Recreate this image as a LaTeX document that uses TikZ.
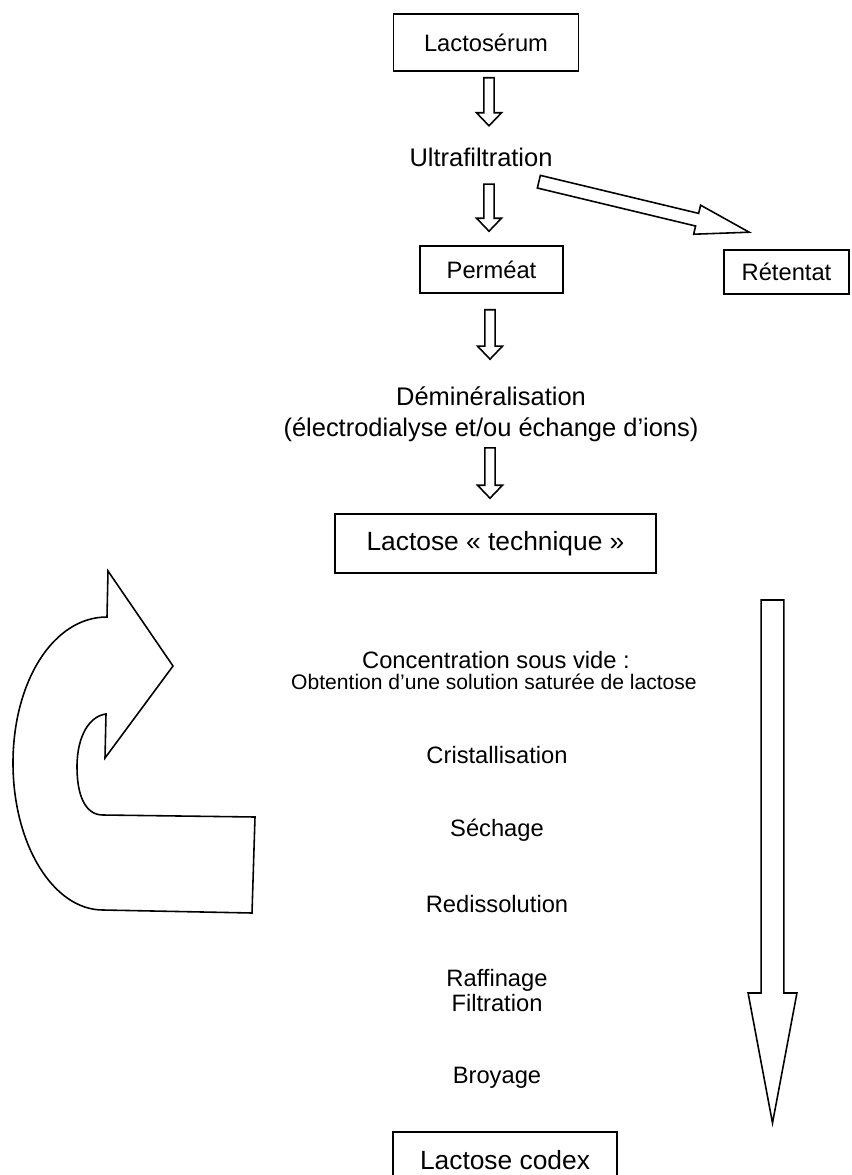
\documentclass[tikz,border=0pt]{standalone}
\usepackage{fontspec}
\setmainfont{Liberation Sans}
\usetikzlibrary{calc, positioning}
\tikzstyle{box} = [draw, rectangle, line width=0.9pt, inner sep=0pt, font=\fontsize{13.5}{16}\selectfont]
\tikzstyle{wide box} = [box, font=\fontsize{15}{18}\selectfont]
\tikzstyle{stage} = [inner sep=0pt, align=center, font=\fontsize{13.5}{14.5}\selectfont]
\tikzstyle{main stage} = [stage, font=\fontsize{14.5}{17.6}\selectfont]
\tikzstyle{note} = [stage, font=\fontsize{12}{14}\selectfont]
\tikzstyle{outline} = [draw, line width=0.9pt, line join=miter, fill=white]
\tikzset{
    shaft/.store in=\sw, head/.store in=\hw, headlen/.store in=\hl,
    shaft=2.9pt, head=7.1pt, headlen=7.4pt,
    hollow/.style={outline, to path={
        let \p1=(\tikztostart), \p2=(\tikztotarget) in
        ($(\p1)!\sw!90:(\p2)$) -- ($(\p2)!\hl!(\p1)!\sw!90:(\p2)$)
        -- ($(\p2)!\hl!(\p1)!\hw!90:(\p2)$) -- (\p2)
        -- ($(\p2)!\hl!(\p1)!\hw!-90:(\p2)$) -- ($(\p2)!\hl!(\p1)!\sw!-90:(\p2)$)
        -- ($(\p1)!\sw!-90:(\p2)$) -- cycle}}
}

\begin{document}
\begin{tikzpicture}[x=0.02cm, y=0.02cm]
    \useasboundingbox (0,0) rectangle (851,-1175);

    \node (serum) [box, minimum width=3.7cm, minimum height=1.14cm] at (486,-42.5) {Lactosérum};
    \node (ultra) [main stage] at (481,-157.5) {Ultrafiltration};
    \node (permeat) [box, minimum width=2.86cm, minimum height=0.94cm] at (491.5,-269.5) {Perméat};
    \node (retentat) [box, minimum width=2.5cm, minimum height=0.88cm] at (786.5,-272) {Rétentat};
    \node (demin) [main stage] at (491,-414) {Déminéralisation\\(électrodialyse et/ou échange d’ions)};
    \node (technique) [wide box, minimum width=6.42cm, minimum height=1.18cm] at (495.5,-543.5) {Lactose «~technique~»};

    \node (conc) [stage] at (496,-660) {Concentration sous vide :};
    \node (sat) [note] at (494,-682) {Obtention d’une solution saturée de lactose};
    \node (cristal) [stage] at (497,-755) {Cristallisation};
    \node (sechage) [stage] at (497,-830) {Séchage};
    \node (rediss) [stage] at (497,-904) {Redissolution};
    \node (raff) [stage] at (497,-990.5) {Raffinage\\Filtration};
    \node (broyage) [stage] at (497,-1078) {Broyage};
    \node (codex) [wide box, minimum width=4.48cm, minimum height=1.12cm] at (505,-1160) {Lactose codex};

    \coordinate (flow top) at (772.5,-600);
    \coordinate (flow end) at (772.5,-1123);

    % Arrows.
    \draw [hollow] ([shift={(3,-6)}]serum.south) to ([shift={(8,22)}]ultra.north);
    \draw [hollow] ([shift={(8,-17)}]ultra.south) to ([shift={(-2.5,14)}]permeat.north);
    \draw [hollow] ([shift={(-1.5,-16)}]permeat.south) to ([shift={(-1,27)}]demin.north);
    \draw [hollow] ([shift={(-1,-6)}]demin.south) to ([shift={(-5.5,15)}]technique.north);
    \draw [hollow, shaft=3.7pt, head=8.5pt, headlen=30.5pt]
        ([shift={(-14,-14.5)}]ultra.south east) to ([shift={(26,17)}]retentat.north west);
    \draw [hollow, shaft=6.5pt, head=13.9pt, headlen=74pt] (flow top) to (flow end);

    % Recycling loop.
    \draw [outline] (252,-913) -- (103,-910)
        .. controls (53,-910) and (13,-844) .. (13,-763)
        .. controls (13,-682) and (53,-617) .. (107,-617)
        -- (108,-571) -- (173,-666) -- (105,-758) -- (106,-714)
        .. controls (90,-716) and (77,-735) .. (77,-767)
        .. controls (77,-795) and (85,-815) .. (103,-815)
        -- (255,-817) -- cycle;
\end{tikzpicture}
\end{document}
